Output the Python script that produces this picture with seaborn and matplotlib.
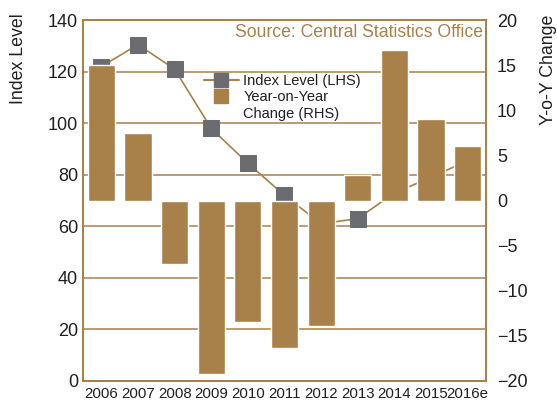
import pandas as pd
import numpy as np
import matplotlib.pyplot as plt
import seaborn as sns
from matplotlib.lines import Line2D

# Data
years = ['2006', '2007', '2008', '2009', '2010', '2011', '2012', '2013', '2014', '2015', '2016e']
index_level = [122, 130.5, 121, 98, 84.5, 72, 61, 63, 73, 79, 85.5]
yoy_change = [15, 7.5, -7, -19.2, -13.5, -16.3, -13.9, 2.8, 16.7, 9, 6]

df = pd.DataFrame({'Year': years, 'Index': index_level, 'YoY': yoy_change})

tan = '#a8804a'
grey = '#6b6c70'
txt = '#231f20'

sns.set_style('white')
plt.rcParams['font.family'] = ['Liberation Sans', 'DejaVu Sans']
plt.rcParams['text.color'] = txt
plt.rcParams['axes.labelcolor'] = txt
plt.rcParams['xtick.color'] = txt
plt.rcParams['ytick.color'] = txt

fig = plt.figure(figsize=(5.57, 4.03), dpi=100)
ax1 = fig.add_axes([0.149, 0.0546, 0.7235, 0.8954])
ax2 = ax1.twinx()

# line on left axis (drawn underneath the bars)
sns.lineplot(data=df, x='Year', y='Index', ax=ax1, sort=False, color=tan, lw=1.2,
             marker='s', markersize=11.5, markerfacecolor=grey, markeredgecolor=grey)

# bars on right axis
sns.barplot(data=df, x='Year', y='YoY', ax=ax2, color=tan, saturation=1, width=0.74)

ax1.set_ylim(0, 140)
ax1.set_yticks(range(0, 141, 20))
ax2.set_ylim(-20, 20)
ax2.set_yticks(range(-20, 21, 5))
ax1.set_xlim(-0.5, 10.5)

ax1.grid(axis='y', color=tan, lw=1.1)
ax1.grid(axis='x', visible=False)
ax2.grid(False)

for ax in (ax1, ax2):
    for s in ax.spines.values():
        s.set_color(tan)
        s.set_linewidth(1.3)
        s.set_visible(True)

ax1.tick_params(axis='y', length=0, labelsize=13, pad=3.5)
ax2.tick_params(axis='y', length=0, labelsize=13, pad=8)
ax1.tick_params(axis='x', which='major', length=0, labelsize=10.8, pad=4)
ax1.set_xticks(np.arange(0.5, 10, 1), minor=True)
ax1.tick_params(axis='x', which='minor', direction='in', length=8, width=1.2, color=tan)
ax2.set_xlabel('')
ax1.set_xlabel('')

ax1.set_ylabel('Index Level', fontsize=12.8, loc='top')
ax1.yaxis.set_label_coords(-0.14, 1.02)
ax2.set_ylabel('Y-o-Y Change', fontsize=12.8, loc='top')
ax2.yaxis.set_label_coords(1.135, 1.015)

ax2.text(0.993, 0.965, 'Source: Central Statistics Office', transform=ax2.transAxes,
         ha='right', va='center', color=tan, fontsize=12.7)

handles = [Line2D([], [], color=tan, lw=1.5, marker='s', markersize=10,
                  markerfacecolor=grey, markeredgecolor=grey),
           Line2D([], [], ls='none', marker='s', markersize=10,
                  markerfacecolor=tan, markeredgecolor=tan),
           Line2D([], [], ls='none')]
ax2.legend(handles, ['Index Level (LHS)', 'Year-on-Year', 'Change (RHS)'],
           loc='upper left', bbox_to_anchor=(0.30, 0.85), frameon=False,
           fontsize=10.5, borderpad=0, borderaxespad=0, handlelength=2.4,
           handletextpad=0.3, labelspacing=0.15)

fig.savefig('out.png', dpi=100)
